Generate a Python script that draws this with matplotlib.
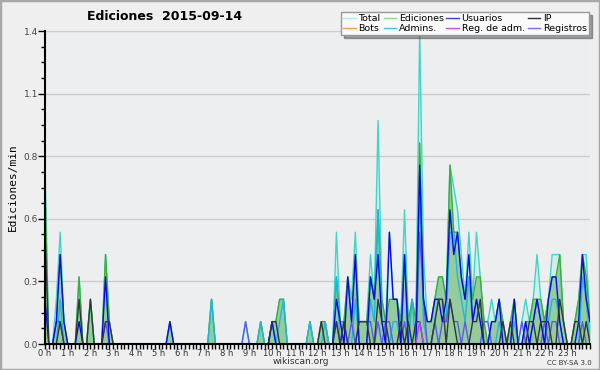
import matplotlib
matplotlib.use("Agg")
import matplotlib.pyplot as plt
import numpy as np
from matplotlib.patches import Rectangle

# counts per 10-minute bin, 00:00 .. 24:00 (one row per hour)
total = [
    8, 0, 0, 2, 5, 1,   0, 0, 0, 3, 0, 0,   2, 0, 0, 0, 4, 1,   0, 0, 0, 0, 0, 0,
    0, 0, 0, 0, 0, 0,   0, 0, 0, 1, 0, 0,   0, 0, 0, 0, 0, 0,   0, 0, 2, 0, 0, 0,
    0, 0, 0, 0, 0, 1,   0, 0, 0, 1, 0, 0,   1, 1, 2, 2, 0, 0,   0, 0, 0, 0, 1, 0,
    0, 1, 1, 0, 0, 5,   1, 1, 3, 2, 5, 1,   1, 1, 4, 2, 10, 2,  1, 5, 2, 2, 1, 6,
    1, 2, 1, 14, 4, 1,  1, 2, 3, 3, 2, 8,   7, 6, 4, 2, 5, 2,   5, 3, 1, 1, 2, 1,
    2, 1, 0, 1, 2, 0,   1, 2, 1, 2, 4, 2,   1, 2, 4, 4, 4, 1,   0, 0, 1, 2, 4, 4,
    1]
ediciones = [
    7, 0, 0, 1, 4, 1,   0, 0, 0, 3, 0, 0,   2, 0, 0, 0, 4, 1,   0, 0, 0, 0, 0, 0,
    0, 0, 0, 0, 0, 0,   0, 0, 0, 1, 0, 0,   0, 0, 0, 0, 0, 0,   0, 0, 2, 0, 0, 0,
    0, 0, 0, 0, 0, 0,   0, 0, 0, 1, 0, 0,   1, 1, 2, 2, 0, 0,   0, 0, 0, 0, 1, 0,
    0, 1, 1, 0, 0, 3,   1, 1, 3, 1, 4, 1,   1, 1, 3, 2, 6, 2,   1, 2, 2, 2, 1, 4,
    1, 2, 1, 9, 2, 1,   1, 2, 3, 3, 2, 8,   5, 5, 3, 2, 3, 2,   3, 3, 1, 0, 1, 1,
    2, 1, 0, 1, 2, 0,   0, 1, 1, 2, 2, 2,   1, 2, 3, 3, 4, 1,   0, 0, 1, 2, 4, 3,
    1]
usuarios = [
    2, 0, 0, 1, 4, 1,   0, 0, 0, 1, 0, 0,   0, 0, 0, 0, 3, 0,   0, 0, 0, 0, 0, 0,
    0, 0, 0, 0, 0, 0,   0, 0, 0, 1, 0, 0,   0, 0, 0, 0, 0, 0,   0, 0, 0, 0, 0, 0,
    0, 0, 0, 0, 0, 0,   0, 0, 0, 0, 0, 0,   1, 0, 0, 0, 0, 0,   0, 0, 0, 0, 0, 0,
    0, 0, 0, 0, 0, 2,   1, 0, 3, 1, 4, 0,   0, 0, 3, 2, 4, 1,   0, 5, 2, 2, 0, 4,
    0, 0, 0, 8, 2, 1,   1, 2, 2, 1, 2, 6,   4, 5, 3, 2, 4, 1,   2, 1, 0, 0, 1, 1,
    2, 0, 0, 0, 2, 0,   0, 1, 0, 1, 2, 1,   0, 2, 3, 3, 1, 0,   0, 0, 0, 1, 4, 2,
    1]
ip = [
    5, 0, 0, 0, 1, 0,   0, 0, 0, 2, 0, 0,   2, 0, 0, 0, 1, 1,   0, 0, 0, 0, 0, 0,
    0, 0, 0, 0, 0, 0,   0, 0, 0, 0, 0, 0,   0, 0, 0, 0, 0, 0,   0, 0, 0, 0, 0, 0,
    0, 0, 0, 0, 0, 0,   0, 0, 0, 0, 0, 0,   1, 1, 0, 0, 0, 0,   0, 0, 0, 0, 0, 0,
    0, 1, 0, 0, 0, 1,   0, 1, 0, 0, 0, 1,   1, 1, 0, 0, 2, 1,   1, 0, 0, 0, 1, 0,
    1, 0, 1, 1, 0, 0,   0, 1, 2, 2, 0, 2,   1, 0, 0, 0, 0, 1,   1, 2, 0, 0, 0, 0,
    0, 1, 0, 1, 0, 0,   0, 0, 1, 1, 0, 1,   1, 1, 0, 0, 2, 1,   0, 0, 1, 1, 0, 1,
    0]
admins = [
    0, 0, 0, 0, 2, 0,   0, 0, 0, 0, 0, 0,   0, 0, 0, 0, 0, 0,   0, 0, 0, 0, 0, 0,
    0, 0, 0, 0, 0, 0,   0, 0, 0, 0, 0, 0,   0, 0, 0, 0, 0, 0,   0, 0, 2, 0, 0, 0,
    0, 0, 0, 0, 0, 0,   0, 0, 0, 1, 0, 0,   1, 0, 1, 2, 0, 0,   0, 0, 0, 0, 1, 0,
    0, 0, 1, 0, 0, 3,   0, 0, 0, 0, 2, 0,   0, 0, 2, 1, 6, 1,   0, 0, 1, 1, 0, 4,
    0, 2, 0, 7, 1, 0,   0, 1, 2, 2, 1, 5,   5, 3, 2, 1, 3, 1,   2, 1, 0, 0, 0, 0,
    1, 0, 0, 0, 1, 0,   0, 0, 0, 1, 2, 1,   0, 1, 2, 2, 1, 0,   0, 0, 0, 0, 3, 2,
    0]
reg_adm = [0] * 99 + [1] + [0] * 45
registros = [
    0, 0, 0, 1, 1, 0,   0, 0, 0, 0, 0, 0,   0, 0, 0, 0, 1, 0,   0, 0, 0, 0, 0, 0,
    0, 0, 0, 0, 0, 0,   0, 0, 0, 0, 0, 0,   0, 0, 0, 0, 0, 0,   0, 0, 0, 0, 0, 0,
    0, 0, 0, 0, 0, 1,   0, 0, 0, 0, 0, 0,   0, 0, 0, 0, 0, 0,   0, 0, 0, 0, 0, 0,
    0, 0, 0, 0, 0, 1,   0, 1, 0, 1, 0, 1,   1, 1, 1, 0, 1, 0,   1, 1, 0, 0, 0, 1,
    0, 0, 0, 5, 2, 0,   0, 1, 0, 1, 1, 2,   1, 1, 0, 1, 0, 0,   0, 0, 1, 1, 0, 0,
    0, 0, 0, 0, 0, 0,   1, 0, 0, 0, 0, 0,   1, 0, 1, 1, 0, 0,   0, 0, 0, 0, 1, 0,
    0]
bots = [0] * 145

HOUR_LABELS = [f"{h} h" for h in range(24)]
YTICKS = [0.0, 0.28, 0.56, 0.84, 1.12, 1.4]
YTICK_LABELS = ["0.0", "0.3", "0.6", "0.8", "1.1", "1.4"]

x = np.arange(len(total)) / 6.0          # hours
rate = lambda s: np.asarray(s) / 10.0      # edits per minute (10-min bins)

fig = plt.figure(figsize=(6, 3.7), dpi=100, facecolor="#efefef")
ax = fig.add_axes([45 / 600, 1 - 344 / 370, 545 / 600, 313 / 370])
ax.set_facecolor("#edeef0")

ax.fill_between(x, rate(total), color="#c6eeea", alpha=0.7, lw=0)
ax.fill_between(x, rate(ediciones), color="#8cc68e", alpha=0.85, lw=0)
ax.plot(x, rate(total), color="#3fd6c8", lw=1.0)
ax.plot(x, rate(ediciones), color="#38b038", lw=1.0)
ax.plot(x, rate(admins), color="#1cb8e0", lw=1.0)
ax.plot(x, rate(registros), color="#5a5af0", lw=1.0)
ax.plot(x, rate(usuarios), color="#0808e8", lw=1.0)
ax.plot(x, rate(ip), color="#303838", lw=1.0)
ax.plot(x, rate(reg_adm), color="#c040e0", lw=1.0)
ax.plot(x, rate(bots), color="#f0a040", lw=0)

ax.set_xlim(0, 24)
ax.set_ylim(0, 1.4)
ax.set_xticks(range(24))
ax.set_xticklabels(HOUR_LABELS, fontsize=6, color="#333333")
ax.set_xticks(np.arange(0, 24.01, 1 / 6), minor=True)
ax.set_yticks(YTICKS)
ax.set_yticklabels(YTICK_LABELS, fontsize=6.5, color="#444444")
ax.set_yticks(np.arange(0, 1.401, 0.07), minor=True)
ax.tick_params(axis="x", which="both", length=3.5, width=1, pad=0)
ax.tick_params(axis="y", which="major", length=5, width=1, pad=0)
ax.tick_params(axis="y", which="minor", length=3, width=1)
ax.yaxis.grid(True, color="#cccccc", lw=1)
ax.set_axisbelow(True)
for s in ("top", "right"):
    ax.spines[s].set_visible(False)
for s in ("left", "bottom"):
    ax.spines[s].set_linewidth(1.5)
ax.set_ylabel("Ediciones/min", family="DejaVu Sans Mono", fontsize=8, labelpad=4)

fig.text(165 / 600, 1 - 17 / 370, "Ediciones  2015-09-14", ha="center", va="center",
         fontsize=9, fontweight="bold")
fig.text(301 / 600, 1 - 362 / 370, "wikiscan.org", ha="center", va="center",
         fontsize=6.5, color="#333333")
fig.text(569 / 600, 1 - 363 / 370, "CC BY-SA 3.0", ha="center", va="center",
         fontsize=5, color="#333333")

# legend (matplotlib fills columns first)
items = [("Total", "#b4ece4"), ("Bots", "#f0a040"), ("Ediciones", "#90d890"),
         ("Admins.", "#40c8e0"), ("Usuarios", "#4040e0"), ("Reg. de adm.", "#d050e0"),
         ("IP", "#303030"), ("Registros", "#7070f0")]
handles = [plt.Line2D([], [], color=c, lw=1) for _, c in items]
fig.legend(handles, [n for n, _ in items], ncol=4, loc="upper right",
           bbox_to_anchor=(589 / 600, 1 - 12 / 370), fontsize=6.8, frameon=True,
           shadow=True, fancybox=False, edgecolor="#999999", facecolor="#fafafa",
           handlelength=1.3, handletextpad=0.3, columnspacing=0.3, labelspacing=0.05,
           borderpad=0.25, borderaxespad=0)

fig.patches.append(Rectangle((0, 0), 1, 1, transform=fig.transFigure, fill=False,
                             edgecolor="#a8a8a8", lw=2.5))
fig.savefig("out.png", dpi=100, facecolor=fig.get_facecolor())
